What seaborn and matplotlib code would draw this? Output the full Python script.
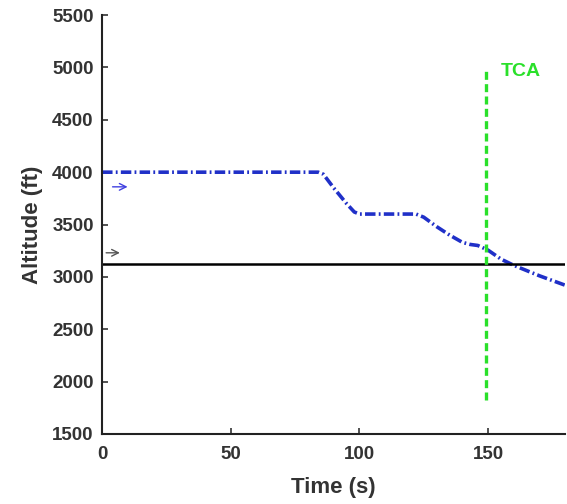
import matplotlib
matplotlib.use("Agg")
import matplotlib.pyplot as plt
import seaborn as sns
import pandas as pd

# Data
time_s = [0, 84, 86, 90, 95, 98, 100, 122, 125, 130, 135, 140, 143, 146, 150, 155, 160, 170, 180]
altitude_ft = [4000, 4000, 3980, 3850, 3700, 3620, 3600, 3600, 3570, 3480, 3400, 3330, 3310, 3300, 3255, 3170, 3110, 3010, 2920]
ref_altitude = 3120
tca_time = 149
tca_range = [1820, 5000]
x_ticks = [0, 50, 100, 150]
y_ticks = [1500, 2000, 2500, 3000, 3500, 4000, 4500, 5000, 5500]

sns.set_theme(style="ticks")
plt.rcParams['font.family'] = ['Liberation Sans', 'DejaVu Sans']

fig = plt.figure(figsize=(5.67, 5.04), dpi=100)
ax = fig.add_axes([0.18, 0.139, 0.817, 0.831])

df = pd.DataFrame({"t": time_s, "alt": altitude_ft})
sns.lineplot(data=df, x="t", y="alt", ax=ax, color="#2030c8", linewidth=2.6,
             linestyle=(0, (2.9, 0.9, 0.5, 0.9)))
ax.axhline(ref_altitude, color="black", linewidth=1.8)
ax.plot([tca_time, tca_time], tca_range, color="#2ae02a", linewidth=2.4,
        linestyle=(0, (2.4, 1.3)))
ax.text(tca_time + 6, 4960, "TCA", color="#2ae02a", fontsize=14, fontweight="bold",
        va="center", ha="left")

ax.annotate("", xy=(11, 3860), xytext=(3, 3860),
            arrowprops=dict(arrowstyle="->", color="#4040e0", lw=1))
ax.annotate("", xy=(8, 3230), xytext=(0.5, 3230),
            arrowprops=dict(arrowstyle="->", color="#555555", lw=1))

ax.set_xlim(0, 180)
ax.set_ylim(1500, 5500)
ax.set_xticks(x_ticks)
ax.set_yticks(y_ticks)
ax.tick_params(direction="in", length=4, width=1.2, labelsize=13.5, colors="#333333",
               labelcolor="#333333")
ax.tick_params(axis="y", pad=6)
ax.tick_params(axis="x", pad=9)
for lab in ax.get_xticklabels() + ax.get_yticklabels():
    lab.set_fontweight("bold")
ax.set_xlabel("Time (s)", fontsize=16, fontweight="bold", color="#333333", labelpad=10)
ax.set_ylabel("Altitude (ft)", fontsize=16, fontweight="bold", color="#333333", labelpad=7)
for s in ["left", "bottom"]:
    ax.spines[s].set_linewidth(1.5)
    ax.spines[s].set_color("#222222")
sns.despine(ax=ax)

fig.savefig("out.png", dpi=100)
